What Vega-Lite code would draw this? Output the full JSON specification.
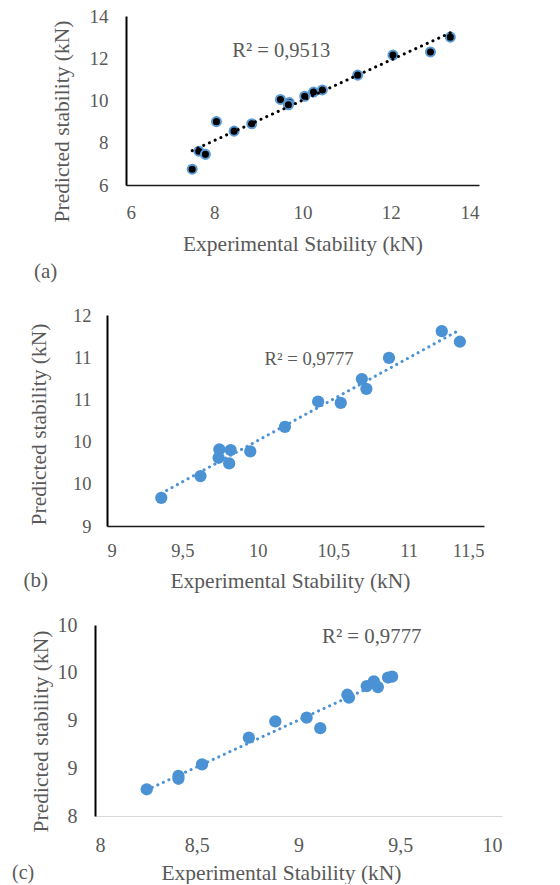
{
  "$schema": "https://vega.github.io/schema/vega-lite/v6.json",
  "background": "white",
  "padding": {"left": 12, "top": 7, "right": 5, "bottom": 0},
  "spacing": 23,
  "config": {
    "view": {"stroke": null},
    "font": "Liberation Serif",
    "axis": {
      "labelFont": "Liberation Serif",
      "titleFont": "Liberation Serif",
      "labelColor": "#595959",
      "titleColor": "#595959",
      "titleFontWeight": "normal",
      "ticks": false,
      "grid": false,
      "domainColor": "#000000",
      "titleFontSize": 21.5
    },
    "text": {"font": "Liberation Serif", "color": "#595959"}
  },
  "datasets": {
    "a": [
      {"exp": 7.5, "pred": 6.75}, {"exp": 7.65, "pred": 7.6}, {"exp": 7.8, "pred": 7.45},
      {"exp": 8.05, "pred": 9.0}, {"exp": 8.45, "pred": 8.55}, {"exp": 8.85, "pred": 8.9},
      {"exp": 9.5, "pred": 10.05}, {"exp": 9.7, "pred": 9.9}, {"exp": 9.68, "pred": 9.8},
      {"exp": 10.05, "pred": 10.2}, {"exp": 10.25, "pred": 10.4}, {"exp": 10.45, "pred": 10.5},
      {"exp": 11.25, "pred": 11.2}, {"exp": 12.05, "pred": 12.15}, {"exp": 12.9, "pred": 12.3},
      {"exp": 13.35, "pred": 13.0}
    ],
    "b": [
      {"exp": 9.36, "pred": 9.40}, {"exp": 9.62, "pred": 9.71}, {"exp": 9.745, "pred": 10.09},
      {"exp": 9.74, "pred": 9.97}, {"exp": 9.82, "pred": 10.08}, {"exp": 9.81, "pred": 9.89},
      {"exp": 9.95, "pred": 10.06}, {"exp": 10.18, "pred": 10.41}, {"exp": 10.40, "pred": 10.77},
      {"exp": 10.55, "pred": 10.75}, {"exp": 10.69, "pred": 11.09}, {"exp": 10.72, "pred": 10.95},
      {"exp": 10.87, "pred": 11.39}, {"exp": 11.22, "pred": 11.77}, {"exp": 11.34, "pred": 11.62}
    ],
    "c": [
      {"exp": 8.254, "pred": 8.28}, {"exp": 8.41, "pred": 8.42}, {"exp": 8.41, "pred": 8.39},
      {"exp": 8.526, "pred": 8.54}, {"exp": 8.756, "pred": 8.82}, {"exp": 8.886, "pred": 8.99},
      {"exp": 9.04, "pred": 9.03}, {"exp": 9.107, "pred": 8.92}, {"exp": 9.24, "pred": 9.27},
      {"exp": 9.248, "pred": 9.24}, {"exp": 9.335, "pred": 9.36}, {"exp": 9.37, "pred": 9.41},
      {"exp": 9.39, "pred": 9.35}, {"exp": 9.44, "pred": 9.45}, {"exp": 9.46, "pred": 9.46}
    ],
    "one": [{"k": 1}]
  },
  "vconcat": [
    {
      "width": 384,
      "height": 169,
      "layer": [
        {
          "data": {"name": "a"},
          "mark": {"type": "circle", "size": 82, "fill": "#000000", "stroke": "#5b9bd5", "strokeWidth": 2, "opacity": 1},
          "encoding": {
            "x": {
              "field": "exp", "type": "quantitative",
              "scale": {"domain": [6, 14], "range": [31, 384], "nice": false, "zero": false},
              "axis": {"title": "Experimental Stability (kN)", "values": [6, 8, 10, 12, 14], "labelFontSize": 19, "labelPadding": 18, "titlePadding": 11, "domainWidth": 1.5, "domainColor": "#1a1a1a"}
            },
            "y": {
              "field": "pred", "type": "quantitative",
              "scale": {"domain": [6, 14], "nice": false, "zero": false},
              "axis": {"title": "Predicted stability (kN)", "values": [6, 8, 10, 12, 14], "offset": -31, "labelFontSize": 19, "labelPadding": 18, "titlePadding": 16, "titleY": 105, "domainWidth": 2}
            }
          }
        },
        {
          "data": {"name": "a"},
          "transform": [{"regression": "pred", "on": "exp"}],
          "mark": {"type": "line", "color": "#000000", "strokeWidth": 3, "strokeDash": [0.1, 6.2], "strokeCap": "round"},
          "encoding": {
            "x": {"field": "exp", "type": "quantitative"},
            "y": {"field": "pred", "type": "quantitative"}
          }
        },
        {
          "data": {"name": "one"},
          "mark": {"type": "text", "fontSize": 20.5, "color": "#595959"},
          "encoding": {"x": {"datum": 9.52}, "y": {"datum": 12.35}, "text": {"value": "R² = 0,9513"}}
        },
        {
          "data": {"name": "one"},
          "mark": {"type": "text", "fontSize": 21, "color": "#595959"},
          "encoding": {"x": {"datum": 4.18}, "y": {"datum": 1.86}, "text": {"value": "(a)"}}
        }
      ]
    },
    {
      "width": 389,
      "height": 211,
      "layer": [
        {
          "data": {"name": "b"},
          "mark": {"type": "circle", "size": 150, "fill": "#4a92d4", "opacity": 1},
          "encoding": {
            "x": {
              "field": "exp", "type": "quantitative",
              "scale": {"domain": [9, 11.5], "range": [12, 389], "nice": false, "zero": false},
              "axis": {"title": "Experimental Stability (kN)", "values": [9, 9.5, 10, 10.5, 11, 11.5], "labelExpr": "replace(toString(datum.value), '.', ',')", "labelFontSize": 18.5, "labelPadding": 15, "titlePadding": 11, "titleX": 195, "domainWidth": 1.5, "domainColor": "#1a1a1a"}
            },
            "y": {
              "field": "pred", "type": "quantitative",
              "scale": {"domain": [9, 12], "nice": false, "zero": false},
              "axis": {"title": "Predicted stability (kN)", "values": [9, 9.6, 10.2, 10.8, 11.4, 12], "labelExpr": "toString(round(datum.value))", "offset": -12, "labelFontSize": 18.5, "labelPadding": 16, "titlePadding": 22, "titleY": 109, "domainWidth": 2}
            }
          }
        },
        {
          "data": {"name": "b"},
          "transform": [{"regression": "pred", "on": "exp"}],
          "mark": {"type": "line", "color": "#4a92d4", "strokeWidth": 3, "strokeDash": [0.1, 6], "strokeCap": "round"},
          "encoding": {
            "x": {"field": "exp", "type": "quantitative"},
            "y": {"field": "pred", "type": "quantitative"}
          }
        },
        {
          "data": {"name": "one"},
          "mark": {"type": "text", "fontSize": 18.6, "color": "#595959"},
          "encoding": {"x": {"datum": 10.34}, "y": {"datum": 11.37}, "text": {"value": "R² = 0,9777"}}
        },
        {
          "data": {"name": "one"},
          "mark": {"type": "text", "fontSize": 21, "color": "#595959"},
          "encoding": {"x": {"datum": 8.527}, "y": {"datum": 8.223}, "text": {"value": "(b)"}}
        }
      ]
    },
    {
      "width": 407,
      "height": 191,
      "layer": [
        {
          "data": {"name": "c"},
          "mark": {"type": "circle", "size": 150, "fill": "#4a92d4", "opacity": 1},
          "encoding": {
            "x": {
              "field": "exp", "type": "quantitative",
              "scale": {"domain": [8, 10], "range": [0, 407], "nice": false, "zero": false},
              "axis": {"title": "Experimental Stability (kN)", "values": [8, 8.5, 9, 9.5, 10], "labelExpr": "replace(toString(datum.value), '.', ',')", "labelFontSize": 20, "labelPadding": 19, "titlePadding": 7, "titleX": 186, "domainWidth": 1, "domainColor": "#d9d9d9"}
            },
            "y": {
              "field": "pred", "type": "quantitative",
              "scale": {"domain": [8, 10], "nice": false, "zero": false},
              "axis": {"title": "Predicted stability (kN)", "values": [8, 8.5, 9, 9.5, 10], "labelExpr": "toString(round(datum.value))", "labelFontSize": 20, "labelPadding": 18, "titlePadding": 5, "titleY": 106, "domainWidth": 2}
            }
          }
        },
        {
          "data": {"name": "c"},
          "transform": [{"regression": "pred", "on": "exp"}],
          "mark": {"type": "line", "color": "#4a92d4", "strokeWidth": 3, "strokeDash": [0.1, 6], "strokeCap": "round"},
          "encoding": {
            "x": {"field": "exp", "type": "quantitative"},
            "y": {"field": "pred", "type": "quantitative"}
          }
        },
        {
          "data": {"name": "one"},
          "mark": {"type": "text", "fontSize": 20.8, "color": "#595959"},
          "encoding": {"x": {"datum": 9.36}, "y": {"datum": 9.87}, "text": {"value": "R² = 0,9777"}}
        },
        {
          "data": {"name": "one"},
          "mark": {"type": "text", "fontSize": 20, "color": "#595959"},
          "encoding": {"x": {"datum": 7.647}, "y": {"datum": 7.4}, "text": {"value": "(c)"}}
        }
      ]
    }
  ]
}
